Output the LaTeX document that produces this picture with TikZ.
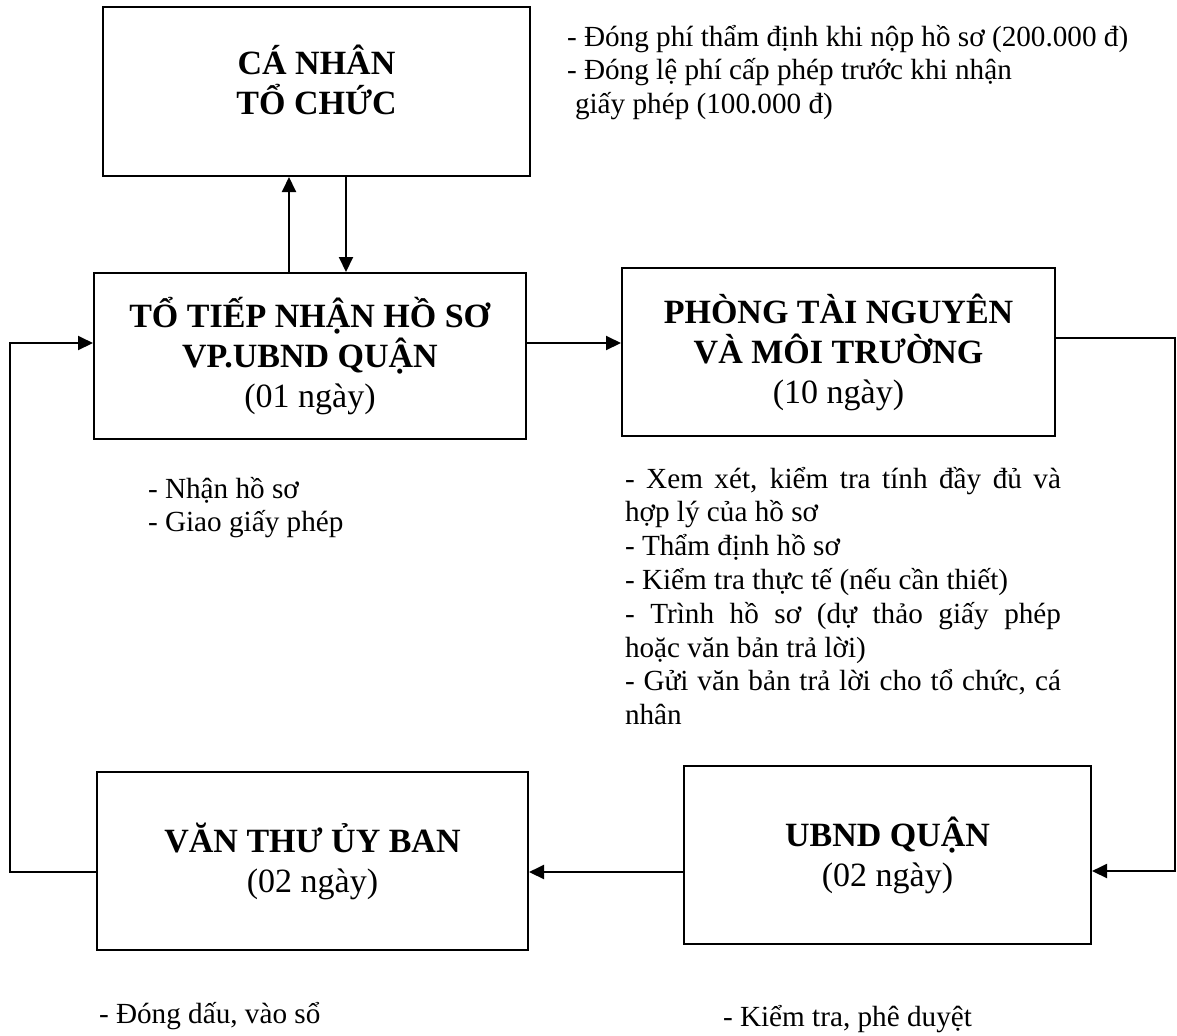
\documentclass[tikz,border=0pt]{standalone}
\usepackage{fontspec}
\setmainfont{Liberation Serif}
\usetikzlibrary{positioning}
\usetikzlibrary{calc}
\usetikzlibrary{arrows.meta}

\begin{document}
\begin{tikzpicture}[x=0.5pt,y=-0.5pt,>={Triangle[length=7.5pt,width=7pt]},line width=1pt]
	\tikzstyle{box}=[draw,align=center,inner sep=0pt,font=\fontsize{17pt}{20pt}\selectfont]
	\tikzstyle{note}=[inner sep=0pt,font=\fontsize{14.6pt}{16.9pt}\selectfont]
	\useasboundingbox (0,0) rectangle (1177,1035);
	
	\node[box,minimum width=213.5pt,minimum height=84.5pt] (canhan)   at (316.5,91.5) {};
	\node[box,draw=none]                                   (canhantxt) at ([yshift=6pt]canhan.center) {\textbf{CÁ NHÂN}\\\textbf{TỔ CHỨC}};
	\node[box,minimum width=216pt,minimum height=83pt]     (tiepnhan) at (310,356)    {\textbf{TỔ TIẾP NHẬN HỒ SƠ}\\\textbf{VP.UBND QUẬN}\\(01 ngày)};
	\node[box,minimum width=216.5pt,minimum height=84pt]   (phong)    at (838.5,352)  {\textbf{PHÒNG TÀI NGUYÊN}\\\textbf{VÀ MÔI TRƯỜNG}\\(10 ngày)};
	\node[box,minimum width=215.5pt,minimum height=89pt]   (vanthu)   at (312.5,861)  {\textbf{VĂN THƯ ỦY BAN}\\(02 ngày)};
	\node[box,minimum width=203.5pt,minimum height=89pt]   (ubnd)     at (887.5,855)  {\textbf{UBND QUẬN}\\(02 ngày)};
	
	\node[note,anchor=north west,align=left] (fees) at (566,24) {- Đóng phí thẩm định khi nộp hồ sơ (200.000 đ)\\- Đóng lệ phí cấp phép trước khi nhận\\\hspace*{4pt}giấy phép (100.000 đ)};
	\node[note,anchor=north west,align=left] (tiepnhantasks) at (147,476) {- Nhận hồ sơ\\- Giao giấy phép};
	\node[note,anchor=north west,text width=218pt,align=justify] (phongtasks) at (624,466) {- Xem xét, kiểm tra tính đầy đủ và\linebreak hợp lý của hồ sơ\newline - Thẩm định hồ sơ\newline - Kiểm tra thực tế (nếu cần thiết)\newline - Trình hồ sơ (dự thảo giấy phép\linebreak hoặc văn bản trả lời)\newline - Gửi văn bản trả lời cho tổ chức, cá\linebreak nhân};
	\node[note,anchor=base west] (vanthutasks) at (98,1023) {- Đóng dấu, vào sổ};
	\node[note,anchor=base west] (ubndtasks)   at (722,1026) {- Kiểm tra, phê duyệt};
	
	\coordinate (up)    at ([xshift=-10.5pt]tiepnhan.north);
	\coordinate (down)  at ([xshift=18pt]tiepnhan.north);
	\coordinate (a1)    at ([yshift=6.5pt]tiepnhan.east);
	\coordinate (a2)    at ([yshift=7pt]phong.east);
	\coordinate (a3)    at ([yshift=-8pt]ubnd.east);
	\coordinate (a4)    at ([yshift=-8.5pt]ubnd.west);
	\coordinate (a5)    at ([yshift=-5.5pt]vanthu.west);
	\coordinate (a6)    at ([yshift=6.5pt]tiepnhan.west);
	\coordinate (rline) at (1175,0);
	\coordinate (lline) at (10,0);
	
	\draw[->] (up) -- (up |- canhan.south);
	\draw[->] (down |- canhan.south) -- (down);
	\draw[->] (a1) -- (a1 -| phong.west);
	\draw[->] (a2) -- (a2 -| rline) |- (a3);
	\draw[->] (a4) -- (a4 -| vanthu.east);
	\draw[->] (a5) -- (a5 -| lline) |- (a6);
\end{tikzpicture}
\end{document}
